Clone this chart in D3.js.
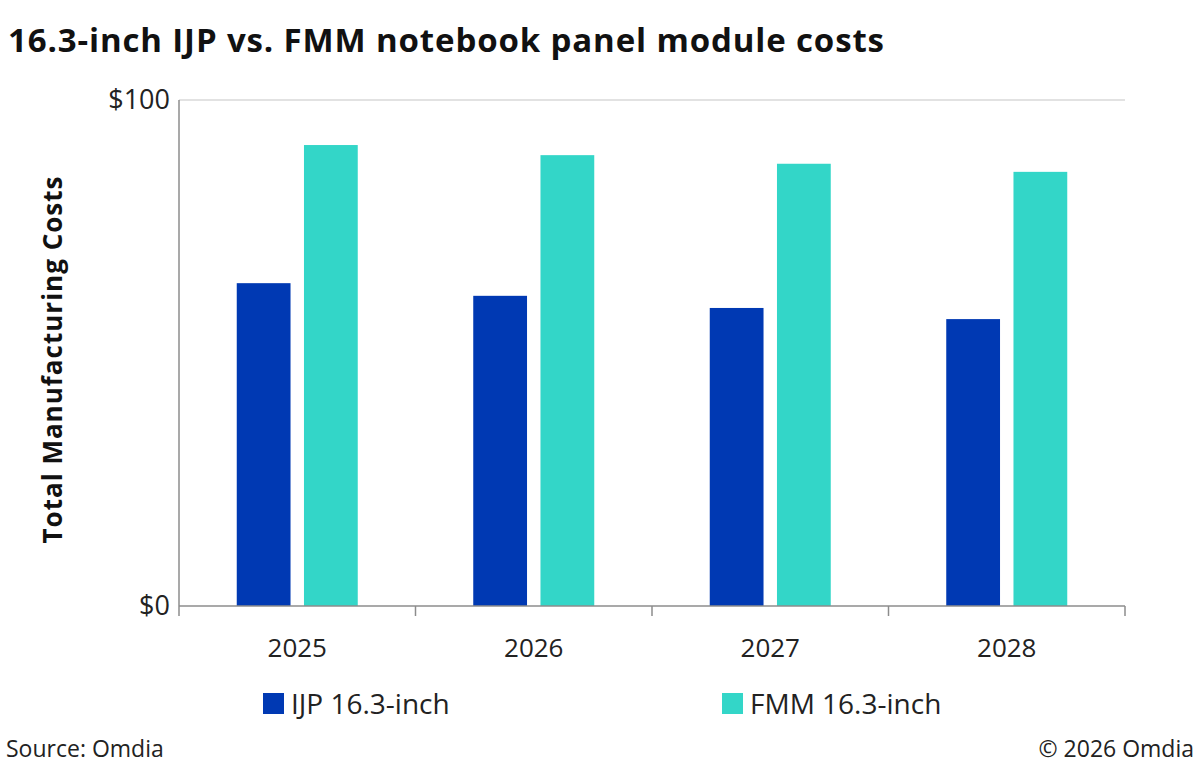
<!DOCTYPE html>
<html><head><meta charset="utf-8">
<script src="https://cdn.jsdelivr.net/npm/d3@7"></script>
<style>body{margin:0;background:#fff}text{font-family:"Open Sans","Noto Sans",sans-serif}</style>
</head><body><svg id="c" width="1200" height="770"></svg>
<script>
const years = ["2025", "2026", "2027", "2028"];
const seriesNames = ["IJP 16.3-inch", "FMM 16.3-inch"];
const ijp = [63.8, 61.3, 58.9, 56.7];
const fmm = [91.1, 89.1, 87.4, 85.8];
const yTicks = [0, 100];
const colors = ["#0039b3", "#33d6c8"];

const svg = d3.select("#c");
const x = d3.scaleBand().domain(years).range([179, 1125]);
const y = d3.scaleLinear().domain([0, 100]).range([606, 100]);
const inner = d3.scaleBand().domain([0, 1]).range([0, 121]).paddingInner(0.2);

svg.append("text").attr("x", 8).attr("y", 52).attr("font-size", 33).attr("font-weight", "bold")
  .attr("fill", "#111").attr("textLength", 876).text("16.3-inch IJP vs. FMM notebook panel module costs");

svg.append("line").attr("x1", 179).attr("x2", 1125).attr("y1", y(100)).attr("y2", y(100))
  .attr("stroke", "#d9d9d9").attr("stroke-width", 1.5);

svg.append("line").attr("x1", 179).attr("x2", 179).attr("y1", y(100)).attr("y2", y(0))
  .attr("stroke", "#8c8c8c").attr("stroke-width", 1.5);

svg.selectAll(".yt").data(yTicks).join("text").attr("x", 170).attr("y", d => y(d) + 9)
  .attr("text-anchor", "end").attr("font-size", 27).attr("fill", "#222").text(d => "$" + d);

svg.append("text").attr("transform", "translate(62,360) rotate(-90)").attr("text-anchor", "middle")
  .attr("font-size", 26).attr("font-weight", "bold").attr("fill", "#111").attr("textLength", 367)
  .text("Total Manufacturing Costs");

years.forEach((yr, i) => {
  const x0 = x(yr) + (x.bandwidth() - 121) / 2;
  [ijp[i], fmm[i]].forEach((v, k) => {
    svg.append("rect").attr("x", x0 + inner(k)).attr("width", inner.bandwidth())
      .attr("y", y(v)).attr("height", y(0) - y(v)).attr("fill", colors[k]);
  });
});

svg.append("line").attr("x1", 179).attr("x2", 1125).attr("y1", y(0)).attr("y2", y(0))
  .attr("stroke", "#8c8c8c").attr("stroke-width", 1.5);
[...years.map(d => x(d)), 1125].forEach(p => {
  svg.append("line").attr("x1", p).attr("x2", p).attr("y1", y(0)).attr("y2", y(0) + 10)
    .attr("stroke", "#8c8c8c").attr("stroke-width", 1.5);
});
svg.selectAll(".xt").data(years).join("text").attr("x", d => x(d) + x.bandwidth() / 2).attr("y", 657)
  .attr("text-anchor", "middle").attr("font-size", 26).attr("fill", "#222").text(d => d);

const legX = [263, 722];
seriesNames.forEach((n, k) => {
  svg.append("rect").attr("x", legX[k]).attr("y", 693).attr("width", 21).attr("height", 21).attr("fill", colors[k]);
  svg.append("text").attr("x", legX[k] + 28).attr("y", 714).attr("font-size", 28).attr("fill", "#222").text(n);
});

svg.append("text").attr("x", 6).attr("y", 757).attr("font-size", 23).attr("fill", "#222").text("Source: Omdia");
svg.append("text").attr("x", 1194).attr("y", 757).attr("text-anchor", "end").attr("font-size", 23).attr("fill", "#222").text("© 2026 Omdia");
</script></body></html>
